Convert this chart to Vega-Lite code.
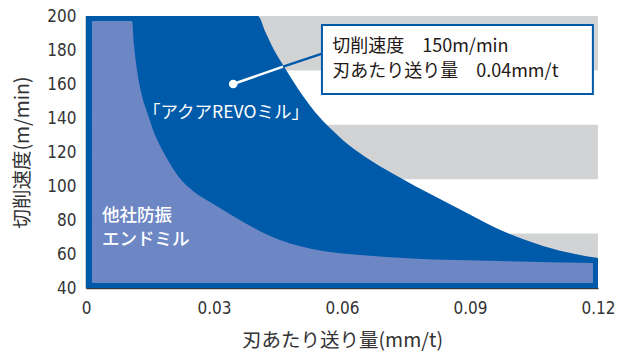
{
  "$schema": "https://vega.github.io/schema/vega-lite/v6.json",
  "width": 512,
  "height": 272,
  "autosize": "none",
  "padding": {"left": 86, "top": 16, "right": 26, "bottom": 64},
  "background": "white",
  "config": {
    "view": {"stroke": null},
    "axis": {
      "labelOverlap": false,
      "labelFlush": false,
      "ticks": false,
      "grid": false,
      "domainColor": "#3a3a3a",
      "domainWidth": 1.5,
      "labelFont": "Liberation Sans Narrow, DejaVu Sans Condensed, sans-serif",
      "labelFontSize": 17,
      "labelColor": "#333333",
      "titleFont": "Noto Sans CJK JP",
      "titleFontSize": 19.5,
      "titleFontWeight": "normal",
      "titleColor": "#333333",
      "zindex": 1
    },
    "axisX": {"labelPadding": 12},
    "axisY": {"labelPadding": 10}
  },
  "datasets": {
    "bands": [
      {"lo": 168, "hi": 200},
      {"lo": 104, "hi": 136},
      {"lo": 40, "hi": 72}
    ],
    "aqua": [
      {"feed": 0, "speed": 200},
      {"feed": 0.0403, "speed": 200},
      {"feed": 0.04195, "speed": 191.2},
      {"feed": 0.04359, "speed": 182.4},
      {"feed": 0.04617, "speed": 171.2},
      {"feed": 0.04852, "speed": 161.8},
      {"feed": 0.05086, "speed": 152.9},
      {"feed": 0.05367, "speed": 143.5},
      {"feed": 0.05719, "speed": 134.1},
      {"feed": 0.06188, "speed": 123.5},
      {"feed": 0.06656, "speed": 115.3},
      {"feed": 0.07125, "speed": 108.2},
      {"feed": 0.07711, "speed": 100.0},
      {"feed": 0.08297, "speed": 92.4},
      {"feed": 0.08883, "speed": 84.7},
      {"feed": 0.0982, "speed": 72.9},
      {"feed": 0.10711, "speed": 64.7},
      {"feed": 0.11461, "speed": 60.0},
      {"feed": 0.12, "speed": 57.6}
    ],
    "other": [
      {"feed": 0.0014, "speed": 197.1},
      {"feed": 0.0108, "speed": 197.1},
      {"feed": 0.01125, "speed": 182.9},
      {"feed": 0.01195, "speed": 168.2},
      {"feed": 0.01313, "speed": 152.9},
      {"feed": 0.0143, "speed": 143.5},
      {"feed": 0.01617, "speed": 130.0},
      {"feed": 0.01852, "speed": 118.2},
      {"feed": 0.02156, "speed": 105.9},
      {"feed": 0.02508, "speed": 97.1},
      {"feed": 0.02906, "speed": 90.6},
      {"feed": 0.03445, "speed": 82.4},
      {"feed": 0.04313, "speed": 70.6},
      {"feed": 0.05297, "speed": 62.9},
      {"feed": 0.06422, "speed": 59.4},
      {"feed": 0.07641, "speed": 57.4},
      {"feed": 0.09703, "speed": 55.9},
      {"feed": 0.11883, "speed": 54.7}
    ]
  },
  "encoding": {
    "x": {
      "type": "quantitative",
      "scale": {"domain": [0, 0.12], "nice": false, "zero": false}
    },
    "y": {
      "type": "quantitative",
      "scale": {"domain": [40, 200], "nice": false, "zero": false}
    }
  },
  "layer": [
    {
      "data": {"name": "bands"},
      "mark": {"type": "rect", "color": "#d1d3d4"},
      "encoding": {
        "x": {"datum": 0, "type": "quantitative",
          "axis": {
            "title": "刃あたり送り量(mm/t)",
            "values": [0, 0.03, 0.06, 0.09, 0.12],
            "labelExpr": "datum.value == 0 ? '0' : format(datum.value, '.2f')",
            "labelOverlap": false,
            "titleX": 256, "titleY": 52, "titleBaseline": "middle", "titleAlign": "center"
          }
        },
        "x2": {"datum": 0.12},
        "y": {"field": "lo", "type": "quantitative",
          "axis": {
            "title": "切削速度(m/min)",
            "values": [40, 60, 80, 100, 120, 140, 160, 180, 200],
            "tickCount": 9,
            "labelOverlap": false,
            "titleX": -64, "titleY": 136, "titleAngle": -90,
            "titleBaseline": "middle", "titleAlign": "center"
          }
        },
        "y2": {"field": "hi"}
      }
    },
    {
      "data": {"name": "aqua"},
      "mark": {"type": "area", "color": "#005aaa", "interpolate": "monotone", "opacity": 1},
      "encoding": {
        "x": {"field": "feed", "type": "quantitative"},
        "y": {"field": "speed", "type": "quantitative"},
        "y2": {"datum": 40}
      }
    },
    {
      "data": {"name": "other"},
      "mark": {"type": "area", "color": "#6d87c5", "interpolate": "monotone", "opacity": 1},
      "encoding": {
        "x": {"field": "feed", "type": "quantitative"},
        "y": {"field": "speed", "type": "quantitative"},
        "y2": {"datum": 42.9}
      }
    },
    {
      "data": {"values": [{"x1": 0.0345, "y1": 160, "x2": 0.0462, "y2": 170.2}]},
      "mark": {"type": "rule", "color": "white", "strokeWidth": 2.5},
      "encoding": {
        "x": {"field": "x1", "type": "quantitative"},
        "y": {"field": "y1", "type": "quantitative"},
        "x2": {"field": "x2"},
        "y2": {"field": "y2"}
      }
    },
    {
      "data": {"values": [{"x1": 0.0462, "y1": 170.2, "x2": 0.0555, "y2": 178.0}]},
      "mark": {"type": "rule", "color": "#005aaa", "strokeWidth": 2.5},
      "encoding": {
        "x": {"field": "x1", "type": "quantitative"},
        "y": {"field": "y1", "type": "quantitative"},
        "x2": {"field": "x2"},
        "y2": {"field": "y2"}
      }
    },
    {
      "data": {"values": [{"feed": 0.0345, "speed": 160}]},
      "mark": {"type": "point", "filled": true, "color": "white", "size": 75, "opacity": 1},
      "encoding": {
        "x": {"field": "feed", "type": "quantitative"},
        "y": {"field": "speed", "type": "quantitative"}
      }
    },
    {
      "data": {"values": [{"x1": 0.0553, "x2": 0.1188, "y1": 194.7, "y2": 154.1}]},
      "mark": {"type": "rect", "fill": "white", "stroke": "#005aaa", "strokeWidth": 2},
      "encoding": {
        "x": {"field": "x1", "type": "quantitative"},
        "x2": {"field": "x2"},
        "y": {"field": "y1", "type": "quantitative"},
        "y2": {"field": "y2"}
      }
    },
    {
      "data": {"values": [
        {"feed": 0.0577, "speed": 181.8, "label": "切削速度　150m/min"},
        {"feed": 0.0577, "speed": 167.1, "label": "刃あたり送り量　0.04mm/t"}
      ]},
      "mark": {"type": "text", "align": "left", "baseline": "middle", "font": "Noto Sans CJK JP", "fontSize": 18, "color": "#231815"},
      "encoding": {
        "x": {"field": "feed", "type": "quantitative"},
        "y": {"field": "speed", "type": "quantitative"},
        "text": {"field": "label"}
      }
    },
    {
      "data": {"values": [{"feed": 0.0328, "speed": 142.9, "label": "「アクアREVOミル」"}]},
      "mark": {"type": "text", "align": "center", "baseline": "middle", "font": "Noto Sans CJK JP", "fontSize": 17.5, "color": "white"},
      "encoding": {
        "x": {"field": "feed", "type": "quantitative"},
        "y": {"field": "speed", "type": "quantitative"},
        "text": {"field": "label"}
      }
    },
    {
      "data": {"values": [
        {"feed": 0.00375, "speed": 82.1, "label": "他社防振"},
        {"feed": 0.00375, "speed": 68.0, "label": "エンドミル"}
      ]},
      "mark": {"type": "text", "align": "left", "baseline": "middle", "font": "Noto Sans CJK JP", "fontSize": 17.5, "fontWeight": 500, "color": "white"},
      "encoding": {
        "x": {"field": "feed", "type": "quantitative"},
        "y": {"field": "speed", "type": "quantitative"},
        "text": {"field": "label"}
      }
    }
  ]
}
